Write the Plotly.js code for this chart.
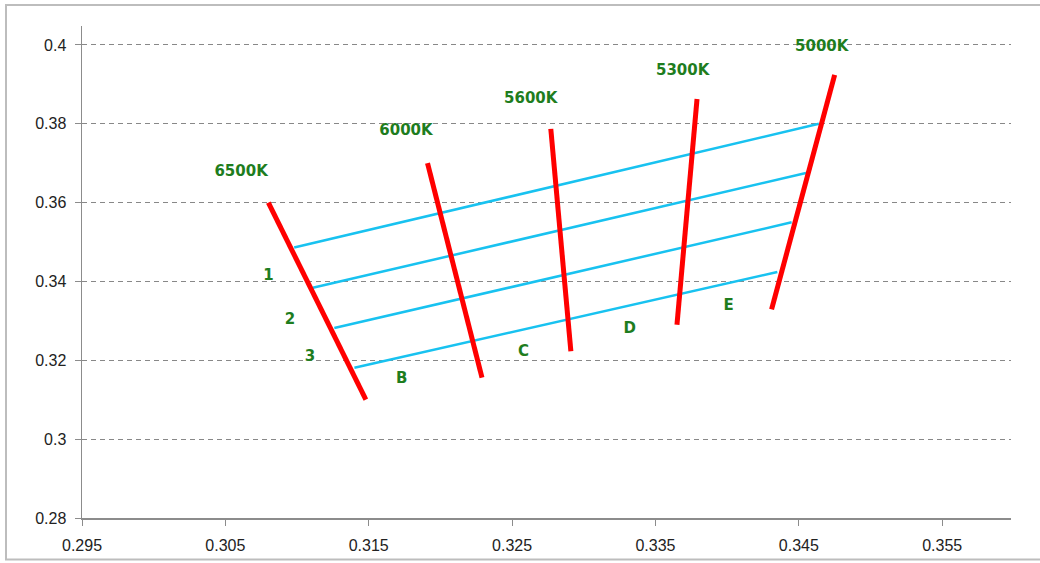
<!DOCTYPE html>
<html>
<head>
<meta charset="utf-8">
<script src="https://cdn.plot.ly/plotly-3.0.1.min.js"></script>
<style>html,body{margin:0;padding:0;background:#fff;}</style>
</head>
<body>
<div id="chart" style="width:1040px;height:563px;"></div>
<script>
// Isotherm (CCT) lines: start / end points
const isoNames = ['6500K', '6000K', '5600K', '5300K', '5000K'];
const isoX0 = [0.3080, 0.3191, 0.3277, 0.3379, 0.3475];
const isoY0 = [0.3600, 0.3700, 0.3787, 0.3863, 0.3924];
const isoX1 = [0.3148, 0.3229, 0.3291, 0.3365, 0.3431];
const isoY1 = [0.3100, 0.3156, 0.3223, 0.3290, 0.3329];

// Band lines (blue): start / end points
const bandX0 = [0.3098, 0.3111, 0.3126, 0.3140];
const bandY0 = [0.3486, 0.3384, 0.3282, 0.3181];
const bandX1 = [0.3464, 0.3455, 0.3445, 0.3435];
const bandY1 = [0.3800, 0.3675, 0.3550, 0.3424];

// Text labels
const isoLabelX = [0.3061, 0.3176, 0.3263, 0.3369, 0.3466];
const isoLabelY = [0.3678, 0.3780, 0.3861, 0.3934, 0.3995];
const rowLabels = ['1', '2', '3'];
const rowLabelX = [0.3080, 0.3095, 0.3109];
const rowLabelY = [0.3412, 0.3301, 0.3209];
const colLabels = ['B', 'C', 'D', 'E'];
const colLabelX = [0.3173, 0.3258, 0.3332, 0.3401];
const colLabelY = [0.3151, 0.3220, 0.3278, 0.3336];

// Tick labels
const xTicks = [0.295, 0.305, 0.315, 0.325, 0.335, 0.345, 0.355];
const xTickText = ['0.295', '0.305', '0.315', '0.325', '0.335', '0.345', '0.355'];
const yTicks = [0.28, 0.30, 0.32, 0.34, 0.36, 0.38, 0.40];
const yTickText = ['0.28', '0.3', '0.32', '0.34', '0.36', '0.38', '0.4'];

const traces = [];
for (let i = 0; i < bandX0.length; i++) {
  traces.push({
    x: [bandX0[i], bandX1[i]], y: [bandY0[i], bandY1[i]],
    mode: 'lines', type: 'scatter', hoverinfo: 'skip',
    line: {color: '#18c2f0', width: 2.5}
  });
}
for (let i = 0; i < isoNames.length; i++) {
  traces.push({
    x: [isoX0[i], isoX1[i]], y: [isoY0[i], isoY1[i]],
    mode: 'lines', type: 'scatter', name: isoNames[i],
    line: {color: '#ff0000', width: 5}
  });
}
traces.push({
  x: isoLabelX.concat(rowLabelX, colLabelX),
  y: isoLabelY.concat(rowLabelY, colLabelY),
  text: isoNames.concat(rowLabels, colLabels).map(t => '<b>' + t + '</b>'),
  mode: 'text', type: 'scatter', textposition: 'middle center',
  textfont: {family: 'DejaVu Sans, Verdana, sans-serif', size: 15, color: '#1e7d1e'},
  hoverinfo: 'skip', cliponaxis: false
});

const tickFont = {family: 'Liberation Sans, Arial, sans-serif', size: 16, color: '#222'};
const layout = {
  width: 1040, height: 563,
  margin: {l: 82, r: 29, t: 26, b: 44.5, pad: 0},
  paper_bgcolor: '#ffffff', plot_bgcolor: '#ffffff',
  showlegend: false,
  xaxis: {
    range: [0.295, 0.3598], tickmode: 'array', tickvals: xTicks, ticktext: xTickText,
    showgrid: false, zeroline: false, showline: true, linecolor: '#8c8c8c', linewidth: 1.5,
    ticks: 'outside', ticklen: 6, tickcolor: '#8c8c8c', tickwidth: 1,
    tickfont: tickFont, ticklabelstandoff: 6, fixedrange: true
  },
  yaxis: {
    range: [0.28, 0.4048], tickmode: 'array', tickvals: yTicks, ticktext: yTickText,
    showgrid: true, gridcolor: '#888888', gridwidth: 1, griddash: '5px,4px',
    zeroline: false, showline: true, linecolor: '#8c8c8c', linewidth: 1.5,
    ticks: 'outside', ticklen: 6, tickcolor: '#8c8c8c', tickwidth: 1,
    tickfont: tickFont, ticklabelstandoff: 5, fixedrange: true
  },
  shapes: [{
    type: 'rect', xref: 'paper', yref: 'paper',
    x0: -0.0818, x1: 1.2, y0: -0.0843, y1: 1.0427,
    line: {color: '#bdbdbd', width: 2}, layer: 'below'
  }]
};
Plotly.newPlot('chart', traces, layout, {displayModeBar: false, staticPlot: true});
</script>
</body>
</html>
